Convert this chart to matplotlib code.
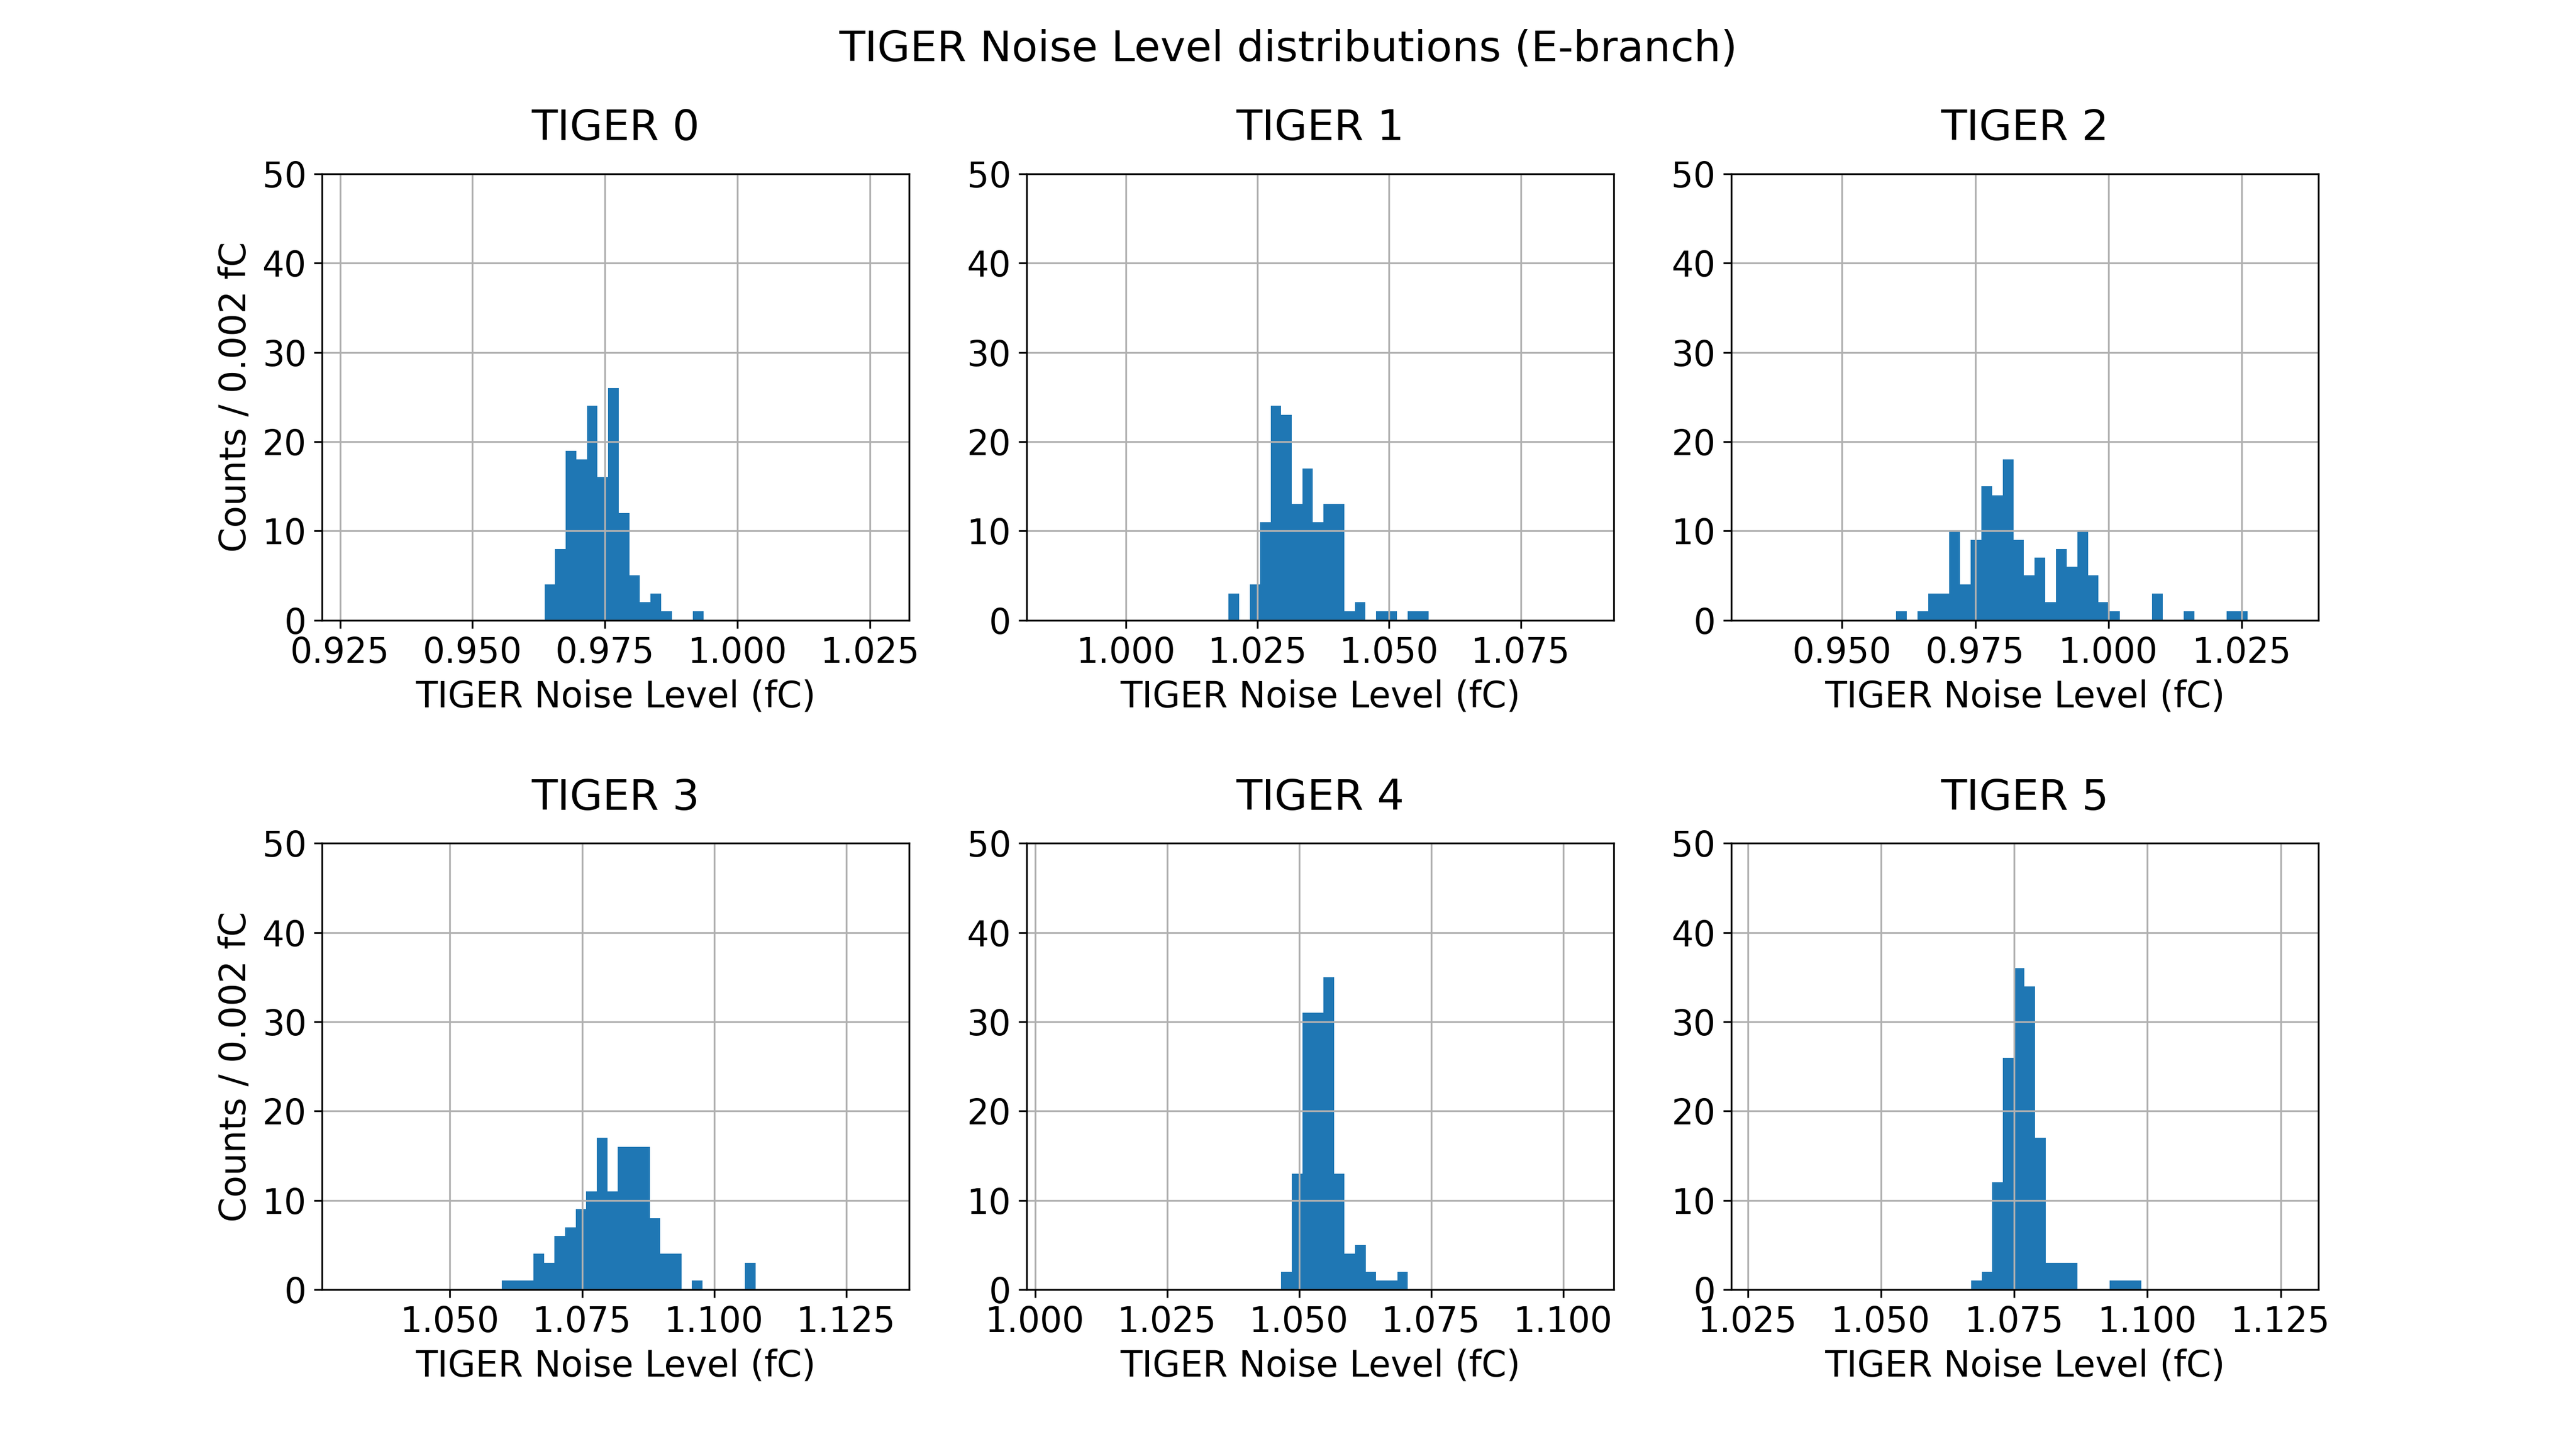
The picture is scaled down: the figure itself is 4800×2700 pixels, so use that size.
import numpy as np
import matplotlib
matplotlib.use("Agg")
import matplotlib.pyplot as plt

bin_width = 0.002

# left edge of first bin and counts per 0.002 fC bin, one per TIGER
first_edges = [0.9636, 1.0195, 0.96015, 1.0598, 1.0466, 1.0669]

counts_t0 = [4, 8, 19, 18, 24, 16, 26, 12, 5, 2, 3, 1, 0, 0, 1]
counts_t1 = [3, 0, 4, 11, 24, 23, 13, 17, 11, 13, 13, 1, 2, 0, 1, 1, 0, 1, 1]
counts_t2 = [1, 0, 1, 3, 3, 10, 4, 9, 15, 14, 18, 9, 5, 7, 2, 8, 6, 10, 5, 2,
             1, 0, 0, 0, 3, 0, 0, 1, 0, 0, 0, 1, 1]
counts_t3 = [1, 1, 1, 4, 3, 6, 7, 9, 11, 17, 11, 16, 16, 16, 8, 4, 4, 0, 1,
             0, 0, 0, 0, 3]
counts_t4 = [2, 13, 31, 31, 35, 13, 4, 5, 2, 1, 1, 2]
counts_t5 = [1, 2, 12, 26, 36, 34, 17, 3, 3, 3, 0, 0, 0, 1, 1, 1]

all_counts = [counts_t0, counts_t1, counts_t2, counts_t3, counts_t4, counts_t5]

x_limits = [(0.9216, 1.0324), (0.9811, 1.0927), (0.9292, 1.0394),
            (1.0258, 1.1369), (0.9984, 1.1096), (1.0219, 1.1321)]

fig, axs = plt.subplots(2, 3, figsize=(16, 9))
fig.subplots_adjust(hspace=0.5)
fig.suptitle("TIGER Noise Level distributions (E-branch)", fontsize=19)

for i, ax in enumerate(axs.flat):
    c = np.array(all_counts[i], dtype=float)
    edges = first_edges[i] + bin_width * np.arange(len(c) + 1)
    ax.hist(edges[:-1], bins=edges, weights=c, color="#1f77b4")
    ax.set_xlim(x_limits[i])
    ax.set_ylim(0, 50)
    ax.set_yticks(np.arange(0, 51, 10))
    ax.grid(True)
    ax.set_title("TIGER %d" % i, fontsize=19, pad=15)
    ax.set_xlabel("TIGER Noise Level (fC)", fontsize=16)
    if i % 3 == 0:
        ax.set_ylabel("Counts / 0.002 fC", fontsize=16)
    ax.tick_params(labelsize=15.5)

fig.savefig("out.png", dpi=300)
